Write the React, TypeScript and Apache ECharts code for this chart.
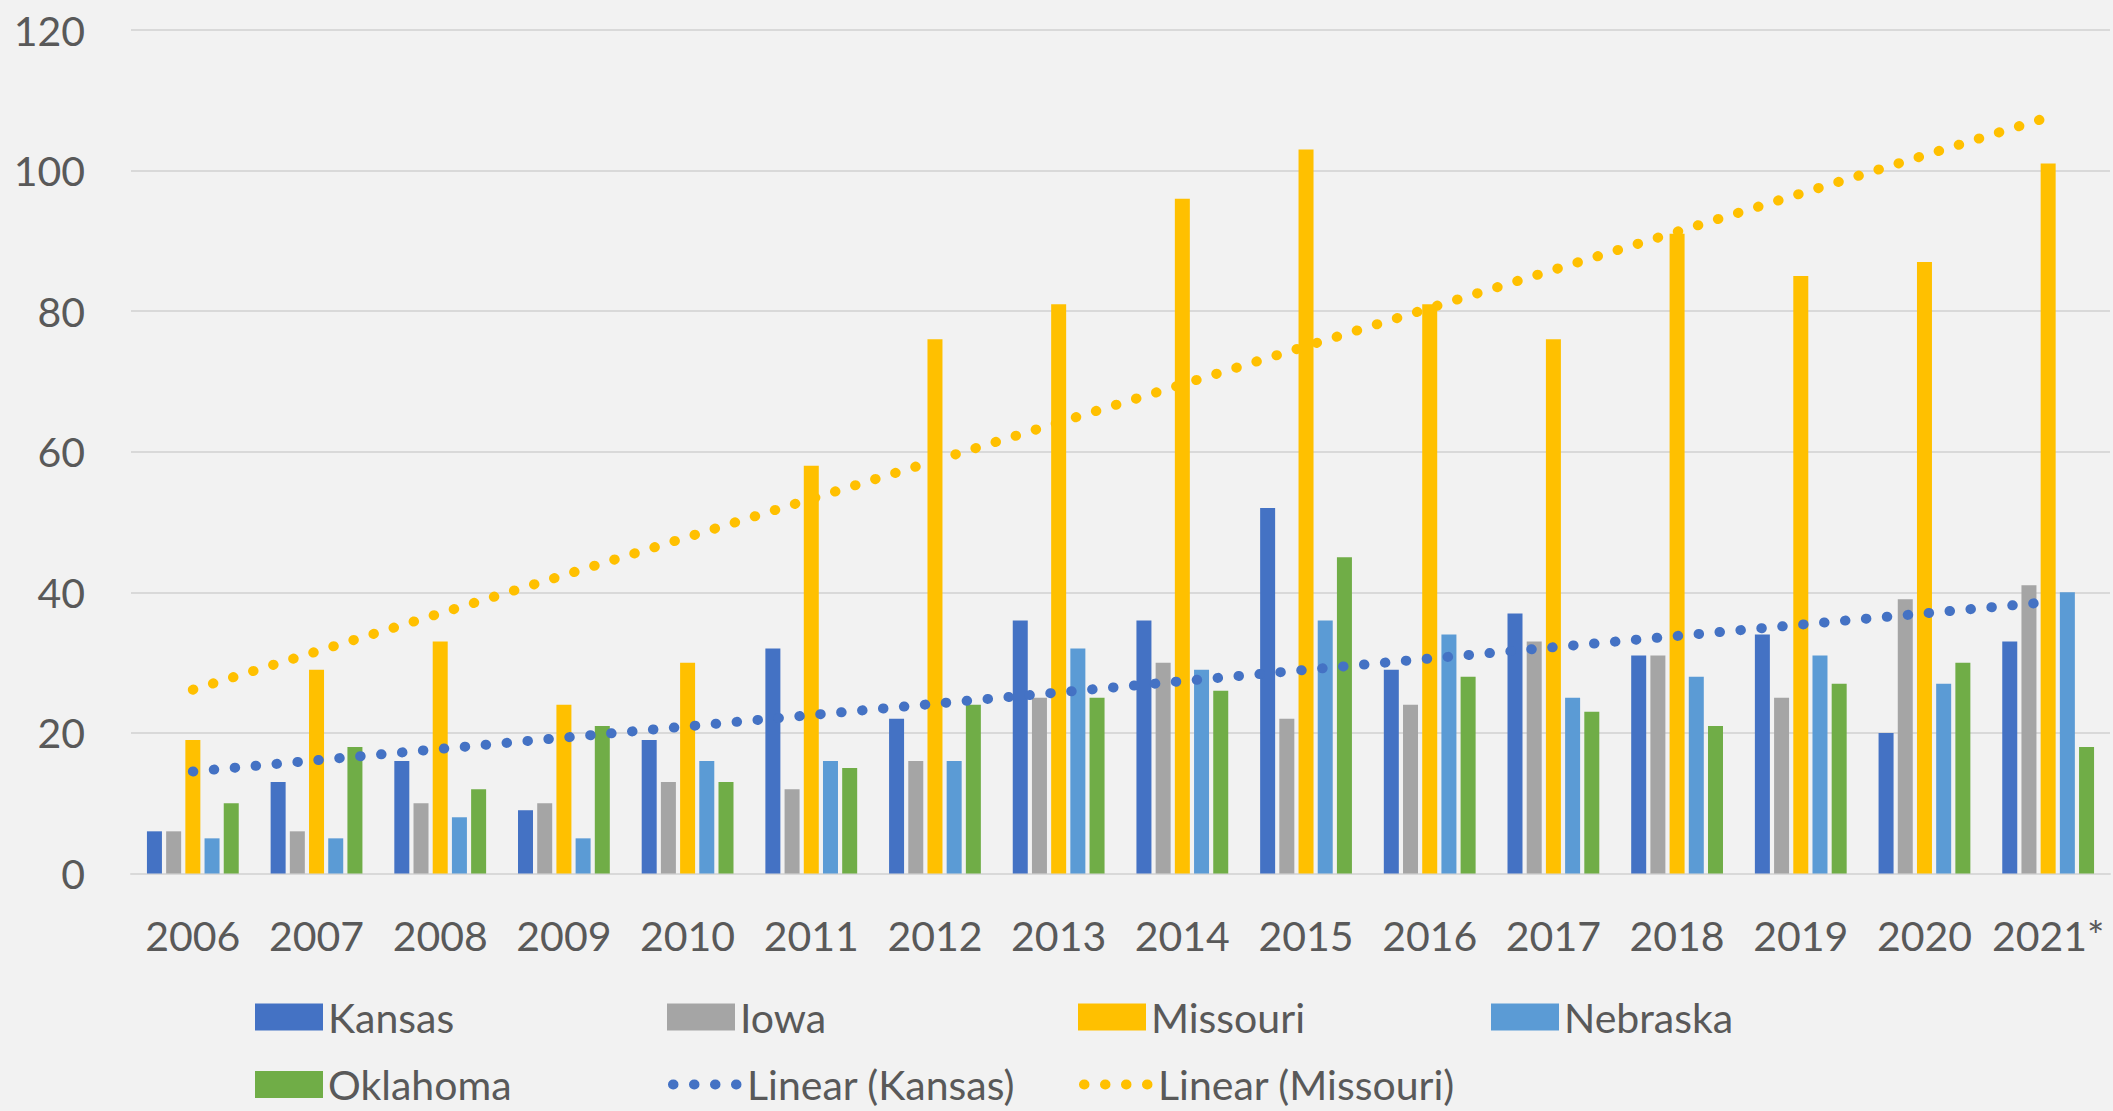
import React, { useEffect, useRef } from 'react';
import * as echarts from 'echarts';

const years = ['2006', '2007', '2008', '2009', '2010', '2011', '2012', '2013', '2014', '2015', '2016', '2017', '2018', '2019', '2020', '2021*'];
const kansas = [6, 13, 16, 9, 19, 32, 22, 36, 36, 52, 29, 37, 31, 34, 20, 33];
const iowa = [6, 6, 10, 10, 13, 12, 16, 25, 30, 22, 24, 33, 31, 25, 39, 41];
const missouri = [19, 29, 33, 24, 30, 58, 76, 81, 96, 103, 81, 76, 91, 85, 87, 101];
const nebraska = [5, 5, 8, 5, 16, 16, 16, 32, 29, 36, 34, 25, 28, 31, 27, 40];
const oklahoma = [10, 18, 12, 21, 13, 15, 24, 25, 26, 45, 28, 23, 21, 27, 30, 18];
const yTicks = [0, 20, 40, 60, 80, 100, 120];

// Least-squares linear trendline (as Excel's "Linear" trendline), from the data
function linearTrend(values: number[]): number[] {
  const n = values.length;
  const xs = values.map((_, i) => i + 1);
  const mx = xs.reduce((a, b) => a + b, 0) / n;
  const my = values.reduce((a, b) => a + b, 0) / n;
  let sxy = 0;
  let sxx = 0;
  for (let i = 0; i < n; i++) {
    sxy += (xs[i] - mx) * (values[i] - my);
    sxx += (xs[i] - mx) * (xs[i] - mx);
  }
  const slope = sxy / sxx;
  return xs.map((x) => +(my + slope * (x - mx)).toFixed(3));
}

const COLORS = {
  Kansas: '#4472C4',
  Iowa: '#A5A5A5',
  Missouri: '#FFC000',
  Nebraska: '#5B9BD5',
  Oklahoma: '#70AD47',
};

const FONT = 'Lato, "Noto Sans", sans-serif';
const TEXT_COLOR = '#595959';
const DOTS = [0.5, 20.5];

export default function App() {
  const ref = useRef<HTMLDivElement>(null);

  useEffect(() => {
    document.body.style.margin = '0';
    if (!ref.current) return;
    const chart = echarts.init(ref.current, null, { renderer: 'svg' });

    const barSeries = [
      { name: 'Kansas', data: kansas },
      { name: 'Iowa', data: iowa },
      { name: 'Missouri', data: missouri },
      { name: 'Nebraska', data: nebraska },
      { name: 'Oklahoma', data: oklahoma },
    ].map((s) => ({
      name: s.name,
      type: 'bar',
      data: s.data,
      barWidth: 15,
      barGap: '28%',
      itemStyle: { color: (COLORS as any)[s.name] },
      z: 2,
    }));

    const trendLine = (name: string, data: number[], color: string) => ({
      name,
      type: 'line',
      data,
      symbol: 'none',
      z: 5,
      lineStyle: { color, width: 10, type: DOTS, cap: 'round' },
      itemStyle: { color },
    });

    const legendBase = {
      orient: 'horizontal',
      padding: 0,
      itemGap: 0,
      textStyle: { fontSize: 41, color: TEXT_COLOR, fontFamily: FONT, lineHeight: 40 },
      selectedMode: false,
    };
    const rectLegend = (name: string, left: number, cy: number) => ({
      ...legendBase,
      data: [{ name, icon: 'rect' }],
      left,
      top: cy - 20,
      itemWidth: 68,
      itemHeight: 27,
    });
    const lineLegend = (name: string, left: number, cy: number, color: string) => ({
      ...legendBase,
      data: [name],
      left,
      top: cy - 20,
      itemWidth: 74,
      itemHeight: 27,
      itemStyle: { opacity: 0 },
      lineStyle: { color, width: 10, type: DOTS, cap: 'round', dashOffset: -5 },
    });

    const row1 = 1016.5;
    const row2 = 1084;

    chart.setOption({
      animation: false,
      backgroundColor: '#F2F2F2',
      grid: { left: 131, right: 3, top: 30, bottom: 237.5, containLabel: false },
      legend: [
        rectLegend('Kansas', 255, row1),
        rectLegend('Iowa', 667, row1),
        rectLegend('Missouri', 1078, row1),
        rectLegend('Nebraska', 1491, row1),
        rectLegend('Oklahoma', 255, row2),
        lineLegend('Linear (Kansas)', 663, row2, COLORS.Kansas),
        lineLegend('Linear (Missouri)', 1074, row2, COLORS.Missouri),
      ],
      xAxis: {
        type: 'category',
        data: years,
        axisLine: { show: true, lineStyle: { color: '#D9D9D9', width: 2 } },
        axisTick: { show: false },
        axisLabel: { interval: 0, fontSize: 41, color: TEXT_COLOR, fontFamily: FONT, margin: 41 },
      },
      yAxis: {
        type: 'value',
        min: yTicks[0],
        max: yTicks[yTicks.length - 1],
        interval: 20,
        axisLine: { show: false },
        axisTick: { show: false },
        splitLine: { lineStyle: { color: '#D9D9D9', width: 2 } },
        axisLabel: { fontSize: 41, color: TEXT_COLOR, fontFamily: FONT, margin: 46 },
      },
      series: [
        ...barSeries,
        trendLine('Linear (Kansas)', linearTrend(kansas), COLORS.Kansas),
        trendLine('Linear (Missouri)', linearTrend(missouri), COLORS.Missouri),
      ],
    });

    return () => chart.dispose();
  }, []);

  return <div ref={ref} style={{ width: 2113, height: 1111 }} />;
}
